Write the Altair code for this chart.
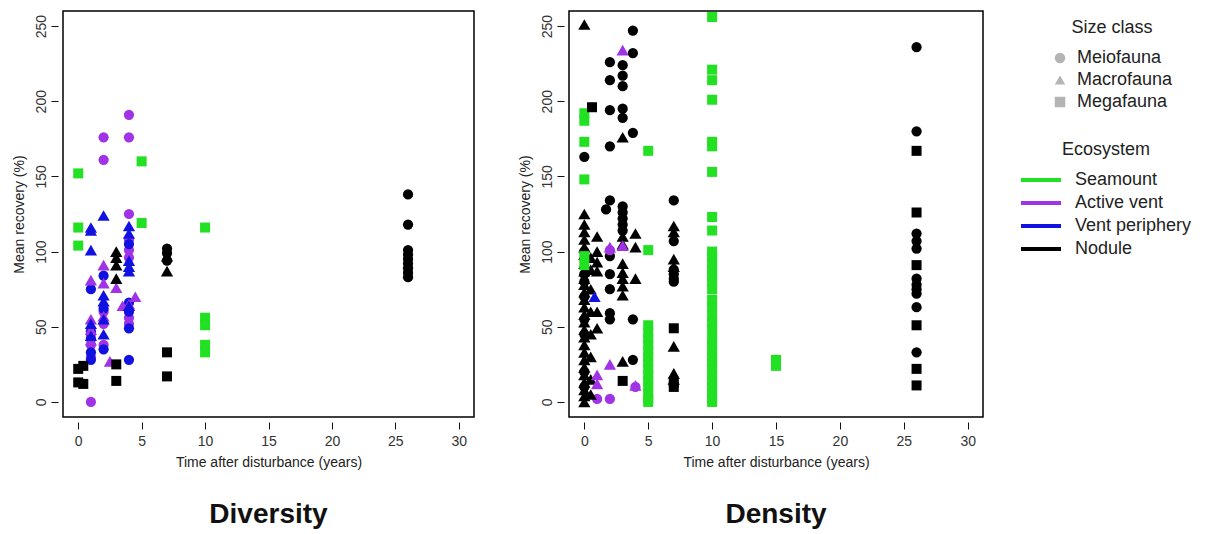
import altair as alt
import pandas as pd

# ---------------- Diversity panel: (time after disturbance, mean recovery %) ----------------
div_seamount_mega = [(0, 152), (0, 116), (0, 104), (5, 160), (5, 119), (10, 116), (10, 56), (10, 51), (10, 38), (10, 33)]
div_active_meio = [(1, 0), (2, 176), (2, 161), (4, 191), (4, 176), (4, 125), (4, 108), (4, 101), (4, 96), (4, 56),
                   (4, 52), (1, 38), (1, 45), (2, 38), (2, 60), (2, 52), (1, 30)]
div_active_macro = [(1, 81), (1, 55), (1, 48), (1, 41), (2, 91), (2, 79), (2.5, 27), (3, 76), (3.5, 64), (4.5, 70),
                    (4, 65), (2, 57)]
div_periph_meio = [(1, 75), (1, 47), (1, 33), (1, 28), (2, 84), (2, 62), (2, 35), (4, 66), (4, 60), (4, 49),
                   (4, 28), (4, 105), (1, 42)]
div_periph_macro = [(1, 116), (1, 114), (1, 101), (1, 52), (1, 44), (2, 124), (2, 71), (2, 67), (2, 55), (2, 45),
                    (4, 117), (4, 112), (4, 94), (4, 90), (4, 87), (4, 64)]
div_nodule_meio = [(7, 102), (7, 99), (7, 94), (26, 138), (26, 118), (26, 101), (26, 98), (26, 95), (26, 92),
                   (26, 89), (26, 86), (26, 83)]
div_nodule_macro = [(3, 100), (3, 96), (3, 91), (3, 82), (7, 97), (7, 87)]
div_nodule_mega = [(0, 22), (0, 13), (0.4, 24), (0.4, 12), (3, 25), (3, 14), (7, 33), (7, 17)]

# ---------------- Density panel ----------------
den_seamount_mega = [(0, 192), (0, 187), (0, 173), (0, 148), (0, 97), (0, 91),
                     (5, 167), (5, 101), (5, 51), (5, 46), (5, 42), (5, 38), (5, 34), (5, 30), (5, 26), (5, 22),
                     (5, 18), (5, 14), (5, 10), (5, 6), (5, 2), (5, 0),
                     (10, 256), (10, 221), (10, 214), (10, 201), (10, 173), (10, 170), (10, 153), (10, 123),
                     (10, 114), (10, 100), (10, 96), (10, 92), (10, 88), (10, 84), (10, 80), (10, 75), (10, 68),
                     (10, 63), (10, 57), (10, 52), (10, 48), (10, 42), (10, 38), (10, 34), (10, 30), (10, 26),
                     (10, 22), (10, 18), (10, 14), (10, 10), (10, 6), (10, 2), (10, 0),
                     (15, 28), (15, 24)]
den_active_meio = [(1, 2), (2, 2), (4, 10), (2, 101)]
den_active_macro = [(3, 234), (2, 103), (3, 104), (1, 18), (1, 12), (2, 25), (4, 11)]
den_periph_macro = [(0.8, 70)]
den_nodule_meio = [(0, 163), (0, 100), (0, 85), (0, 80), (0, 70), (0, 55), (0, 45), (0, 20), (0, 10),
                   (1.7, 128), (2, 226), (2, 214), (2, 194), (2, 170), (2, 134), (2, 97), (2, 85), (2, 75),
                   (2, 59), (2, 55), (3, 224), (3, 217), (3, 210), (3, 195), (3, 189), (3, 130), (3, 126),
                   (3, 122), (3, 118), (3, 114), (3.8, 247), (3.8, 232), (3.8, 179), (3.8, 55), (3.8, 28),
                   (7, 134), (7, 107), (7, 88), (7, 85), (7, 82), (7, 80),
                   (26, 236), (26, 180), (26, 112), (26, 107), (26, 102), (26, 82), (26, 78), (26, 75),
                   (26, 72), (26, 63), (26, 33)]
den_nodule_macro = [(0, 251), (0, 125), (0, 118), (0, 113), (0, 108), (0, 103), (0, 98), (0, 92), (0, 87),
                    (0, 82), (0, 78), (0, 73), (0, 68), (0, 63), (0, 58), (0, 53), (0, 48), (0, 43), (0, 38),
                    (0, 33), (0, 28), (0, 23), (0, 18), (0, 13), (0, 8), (0, 4), (0, 0),
                    (0.5, 96), (0.5, 88), (0.5, 75), (0.5, 60), (0.5, 45), (0.5, 30), (0.5, 15), (0.5, 5),
                    (1, 110), (1, 100), (1, 93), (1, 87), (1, 60), (1, 49),
                    (3, 176), (3, 110), (3, 105), (3, 92), (3, 86), (3, 82), (3, 77), (3, 71), (3, 27),
                    (4, 112), (4, 103), (4, 82),
                    (7, 117), (7, 113), (7, 95), (7, 90), (7, 37), (7, 19), (7, 15)]
den_nodule_mega = [(0.6, 196), (3, 14), (7, 49), (7, 13), (7, 10),
                   (26, 167), (26, 126), (26, 91), (26, 51), (26, 22), (26, 11)]

eco_order = ["Seamount", "Active vent", "Vent periphery", "Nodule"]
eco_colors = ["#22E022", "#A033E6", "#1212E0", "#000000"]
size_order = ["Meiofauna", "Macrofauna", "Megafauna"]
size_shapes = ["circle", "triangle-up", "square"]
size_areas = [105, 150, 100]
x_ticks = [0, 5, 10, 15, 20, 25, 30]
y_ticks = [0, 50, 100, 150, 200, 250]

FONT = "Liberation Sans"


def build(groups):
    rows = []
    for eco, size, pts in groups:
        for t, v in pts:
            rows.append({"time": t, "value": v, "eco": eco, "size": size})
    return pd.DataFrame(rows)


div_df = build([
    ("Seamount", "Megafauna", div_seamount_mega),
    ("Active vent", "Meiofauna", div_active_meio),
    ("Active vent", "Macrofauna", div_active_macro),
    ("Vent periphery", "Meiofauna", div_periph_meio),
    ("Vent periphery", "Macrofauna", div_periph_macro),
    ("Nodule", "Meiofauna", div_nodule_meio),
    ("Nodule", "Macrofauna", div_nodule_macro),
    ("Nodule", "Megafauna", div_nodule_mega),
])
den_df = build([
    ("Seamount", "Megafauna", den_seamount_mega),
    ("Nodule", "Meiofauna", den_nodule_meio),
    ("Nodule", "Macrofauna", den_nodule_macro),
    ("Nodule", "Megafauna", den_nodule_mega),
    ("Active vent", "Meiofauna", den_active_meio),
    ("Active vent", "Macrofauna", den_active_macro),
    ("Vent periphery", "Macrofauna", den_periph_macro),
])

size_legend = alt.Legend(
    title="Size class", orient="none", legendX=988, legendY=8,
    titleFontSize=18, titleFontWeight="normal", titleFont=FONT, titleColor="#222",
    titleAnchor="middle", titlePadding=12,
    labelFontSize=18, labelFont=FONT, labelColor="#222", labelOffset=8,
    symbolFillColor="#b4b4b4", symbolStrokeColor="#b4b4b4", symbolStrokeWidth=0,
    symbolSize=110, rowPadding=4,
)
eco_legend = alt.Legend(
    title="Ecosystem", orient="none", legendX=958, legendY=130,
    titleFontSize=18, titleFontWeight="normal", titleFont=FONT, titleColor="#222",
    titleAnchor="middle", titlePadding=11,
    labelFontSize=18, labelFont=FONT, labelColor="#222", labelOffset=14,
    symbolType="M-1,-0.1L1,-0.1L1,0.1L-1,0.1Z", symbolSize=1600, symbolStrokeWidth=0,
    symbolOpacity=1, rowPadding=3, clipHeight=20,
)


def panel(df, title, width):
    base = alt.Chart(df).encode(
        x=alt.X("time:Q", scale=alt.Scale(domain=[-1.2, 31.2], nice=False, zero=False),
                axis=alt.Axis(values=x_ticks, title="Time after disturbance (years)")),
        y=alt.Y("value:Q", scale=alt.Scale(domain=[-10, 260], nice=False, zero=False),
                axis=alt.Axis(values=y_ticks, labelAngle=-90, title="Mean recovery (%)")),
        color=alt.Color("eco:N", scale=alt.Scale(domain=eco_order, range=eco_colors), legend=eco_legend),
        shape=alt.Shape("size:N", scale=alt.Scale(domain=size_order, range=size_shapes), legend=size_legend),
    )
    layers = [
        base.transform_filter(alt.datum.size == s).mark_point(filled=True, opacity=1, strokeWidth=0, size=a)
        for s, a in zip(size_order, size_areas)
    ]
    return alt.layer(*layers).properties(
        width=width, height=406,
        title=alt.TitleParams(title, orient="bottom", anchor="middle", frame="group", fontSize=28,
                              fontWeight="bold", font=FONT, color="#111", offset=32),
    )


chart = alt.hconcat(panel(div_df, "Diversity", 411), panel(den_df, "Density", 414), spacing=42).properties(
    padding={"left": 11, "top": 10, "right": 0, "bottom": 0},
).configure_view(
    stroke="black", strokeWidth=1.5,
).configure_axis(
    domain=False, grid=False, offset=5, tickSize=7, tickColor="#111", tickWidth=1,
    labelFont=FONT, labelFontSize=14, labelColor="#333", labelPadding=3,
    titleFont=FONT, titleFontSize=14, titleFontWeight="normal", titleColor="#222", titlePadding=8,
).configure_axisX(
    labelPadding=5, titlePadding=7,
)

chart.save("out.html", embed_options={"renderer": "svg", "actions": False})
